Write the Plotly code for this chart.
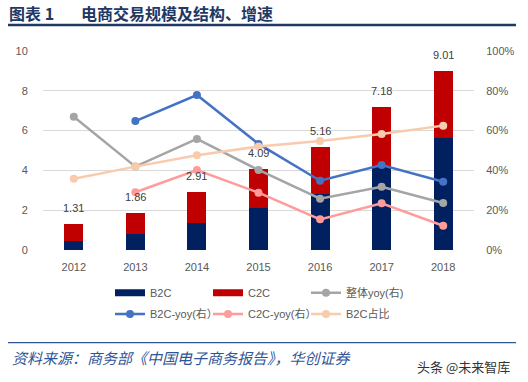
import plotly.graph_objects as go

# ---- data ----
years = [2012, 2013, 2014, 2015, 2016, 2017, 2018]
b2c = [0.47, 0.78, 1.38, 2.09, 2.83, 4.19, 5.63]
c2c = [0.84, 1.08, 1.53, 2.00, 2.33, 2.99, 3.38]
total = [1.31, 1.86, 2.91, 4.09, 5.16, 7.18, 9.01]
total_yoy = [0.670, 0.419, 0.558, 0.402, 0.258, 0.318, 0.236]
b2c_yoy = [None, 0.648, 0.779, 0.533, 0.348, 0.427, 0.343]
c2c_yoy = [None, 0.290, 0.402, 0.288, 0.154, 0.235, 0.122]
b2c_share = [0.358, 0.419, 0.476, 0.520, 0.548, 0.583, 0.625]

W, H = 528, 382
ML, MR, MT, MB = 43, 54, 51, 132
PW, PH = W - ML - MR, H - MT - MB


def px_x(p):
    return (p - ML) / PW


def px_y(p):
    return (H - MB - p) / PH


FONT = "Liberation Sans, Noto Sans CJK SC, sans-serif"
CJK = "Noto Sans CJK SC, sans-serif"
TICK = "#595959"

fig = go.Figure()

# bars
fig.add_trace(go.Bar(x=years, y=b2c, name="B2C", marker=dict(color="#002060", line=dict(width=0)),
                     showlegend=False, hoverinfo="skip", width=0.31))
fig.add_trace(go.Bar(x=years, y=c2c, name="C2C", marker=dict(color="#C00000", line=dict(width=0)),
                     showlegend=False, hoverinfo="skip", width=0.31))

# legend swatches for bars (no visible points)
fig.add_trace(go.Scatter(x=[years[0]], y=[None], mode="lines", name="B2C",
                         line=dict(color="#002060", width=7), legend="legend"))
fig.add_trace(go.Scatter(x=[years[0]], y=[None], mode="lines", name="C2C",
                         line=dict(color="#C00000", width=7), legend="legend"))

lines = [
    ("整体yoy(右)", total_yoy, "#A5A5A5", "legend"),
    ("B2C-yoy(右）", b2c_yoy, "#4472C4", "legend2"),
    ("C2C-yoy(右）", c2c_yoy, "#FF9B9B", "legend2"),
    ("B2C占比", b2c_share, "#F8CBAD", "legend2"),
]
for name, vals, col, lg in lines:
    fig.add_trace(go.Scatter(x=years, y=vals, yaxis="y2", mode="lines+markers", name=name,
                             line=dict(color=col, width=2.5), marker=dict(color=col, size=8),
                             legend=lg, connectgaps=False))

# data labels above stacked bars
for yr, t in zip(years, total):
    fig.add_annotation(x=yr, y=t, xref="x", yref="y", text=f"{t:.2f}", showarrow=False,
                       yanchor="bottom", yshift=8, font=dict(family=FONT, size=11, color="#404040"))

# title
fig.add_annotation(xref="paper", yref="paper", x=px_x(7), y=px_y(13), xanchor="left", yanchor="middle",
                   text="<b>图表 1</b>", showarrow=False,
                   font=dict(family=CJK, size=16, color="#1F3864"))
fig.add_annotation(xref="paper", yref="paper", x=px_x(79), y=px_y(13), xanchor="left", yanchor="middle",
                   text="<b>电商交易规模及结构、增速</b>", showarrow=False,
                   font=dict(family=CJK, size=16, color="#1F3864"))
fig.add_shape(type="line", xref="paper", yref="paper", x0=px_x(8), x1=px_x(516), y0=px_y(25), y1=px_y(25),
              line=dict(color="#1F3864", width=2.5))

# footer
fig.add_shape(type="line", xref="paper", yref="paper", x0=px_x(8), x1=px_x(516), y0=px_y(342.7), y1=px_y(342.7),
              line=dict(color="#2F5597", width=1.2))
fig.add_annotation(xref="paper", yref="paper", x=px_x(10), y=px_y(357.5), xanchor="left", yanchor="middle",
                   text="<i>资料来源：商务部《中国电子商务报告》，华创证券</i>", showarrow=False,
                   font=dict(family=CJK, size=15, color="#2F5597"))
fig.add_annotation(xref="paper", yref="paper", x=px_x(512), y=px_y(366), xanchor="right", yanchor="middle",
                   text="头条 @未来智库", showarrow=False,
                   font=dict(family=CJK, size=13, color="#333333"))

legend_common = dict(orientation="h", xanchor="left", yanchor="middle", entrywidth=53,
                     font=dict(family=FONT, size=11, color=TICK), bgcolor="rgba(0,0,0,0)",
                     borderwidth=0, traceorder="normal", itemclick=False, itemdoubleclick=False)

fig.update_layout(
    width=W, height=H,
    margin=dict(l=ML, r=MR, t=MT, b=MB, autoexpand=False),
    paper_bgcolor="white", plot_bgcolor="white",
    barmode="stack",
    showlegend=True,
    legend=dict(x=px_x(110), y=px_y(292.7), **legend_common),
    legend2=dict(x=px_x(110), y=px_y(314), **legend_common),
    xaxis=dict(type="linear", range=[2011.5, 2018.5], tickmode="array", tickvals=years,
               ticktext=[str(y) for y in years],
               showgrid=False, showline=False, zeroline=False,
               ticks="outside", ticklen=7, tickcolor="rgba(0,0,0,0)",
               tickfont=dict(family=FONT, size=11, color=TICK)),
    yaxis=dict(range=[0, 10], dtick=2, showgrid=True, gridcolor="#D9D9D9", gridwidth=1,
               zeroline=False, showline=False, ticks="outside", ticklen=12, tickcolor="rgba(0,0,0,0)",
               tickfont=dict(family=FONT, size=11, color=TICK)),
    yaxis2=dict(range=[0, 1], dtick=0.2, tickformat=".0%", overlaying="y", side="right",
                showgrid=False, zeroline=False, showline=False, ticks="outside", ticklen=9,
                tickcolor="rgba(0,0,0,0)",
                tickfont=dict(family=FONT, size=11, color=TICK)),
    hovermode=False,
)

fig.write_html("out.html", config={"displayModeBar": False},
               post_script="document.body.style.margin='0';")
